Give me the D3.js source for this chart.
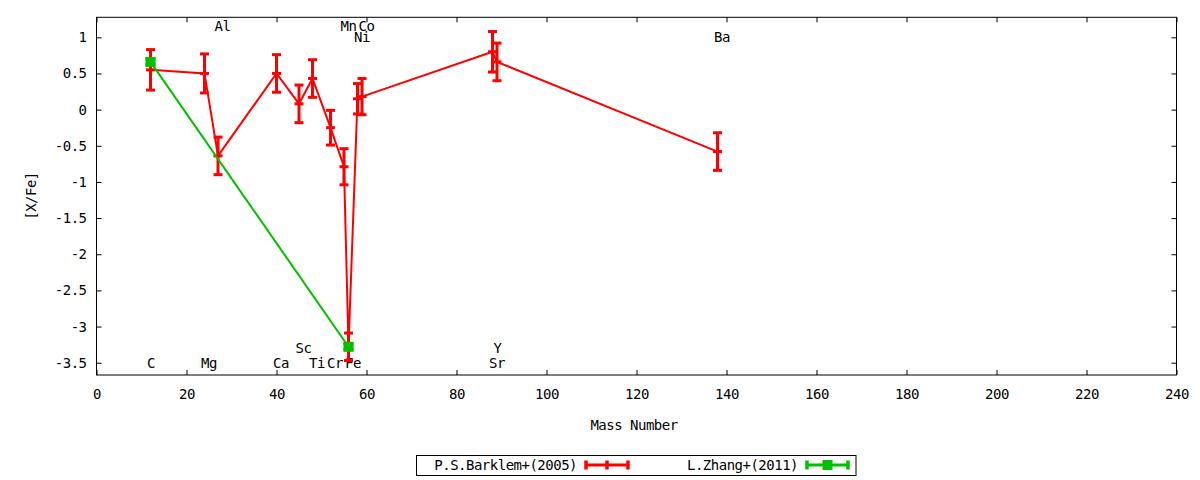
<!DOCTYPE html>
<html>
<head>
<meta charset="utf-8">
<script src="https://cdn.jsdelivr.net/npm/d3@7.9.0/dist/d3.min.js"></script>
<style>
  body { margin: 0; background: #fff; }
  svg text { font-family: "DejaVu Sans Mono", monospace; font-size: 14px; letter-spacing: -0.5px; fill: #000; }
</style>
</head>
<body>
<svg id="chart" width="1200" height="480"></svg>
<script>
// P.S.Barklem+(2005)
const barklemMass = [12, 24, 27, 40, 45, 48, 52, 55, 56, 58, 59, 88, 89, 138];
const barklemVal  = [0.55, 0.50, -0.64, 0.50, 0.08, 0.43, -0.25, -0.79, -3.28, 0.15, 0.18, 0.80, 0.66, -0.58];
const barklemErr  = [0.28, 0.27, 0.26, 0.26, 0.26, 0.26, 0.24, 0.25, 0.19, 0.21, 0.25, 0.28, 0.26, 0.26];

// L.Zhang+(2011)
const zhangMass = [12, 56];
const zhangVal  = [0.66, -3.28];
const zhangErr  = [0.04, 0.04];

// element labels (mass number, [X/Fe] row)
const labelText = ['C', 'Mg', 'Al', 'Ca', 'Sc', 'Ti', 'Cr', 'Mn', 'Fe', 'Co', 'Ni', 'Sr', 'Y', 'Ba'];
const labelMass = [12, 24, 27, 40, 45, 48, 52, 55, 56, 59, 58, 88, 89, 138];
const labelRow  = [-3.5, -3.5, 1.15, -3.5, -3.3, -3.5, -3.5, 1.15, -3.5, 1.15, 1.0, -3.5, -3.3, 1.0];

const xTicks = d3.range(0, 241, 20);
const yTicks = [1, 0.5, 0, -0.5, -1, -1.5, -2, -2.5, -3, -3.5];

const seriesNames = ['P.S.Barklem+(2005)', 'L.Zhang+(2011)'];
const colors = ['#ff0000', '#00c000'];

const pLeft = 96.5, pRight = 1176.5, pTop = 17.3, pBottom = 375;
const x = d3.scaleLinear().domain([0, 240]).range([pLeft, pRight]);
const y = d3.scaleLinear().domain([-3.670, 1.2766]).range([pBottom, pTop]);

const svg = d3.select('#chart');

// axes (gnuplot style: inward ticks, mirrored)
svg.append('g').attr('transform', `translate(0,${pBottom})`)
  .call(d3.axisBottom(x).tickValues(xTicks).tickSizeInner(-5).tickSizeOuter(0).tickPadding(14).tickFormat(d3.format('d')))
  .call(g => g.select('.domain').remove());
svg.append('g').attr('transform', `translate(0,${pTop})`)
  .call(d3.axisTop(x).tickValues(xTicks).tickSizeInner(-5).tickSizeOuter(0).tickFormat(''))
  .call(g => g.select('.domain').remove());
svg.append('g').attr('transform', `translate(${pLeft},0)`)
  .call(d3.axisLeft(y).tickValues(yTicks).tickSizeInner(-5).tickSizeOuter(0).tickPadding(10).tickFormat(d => String(d)))
  .call(g => g.select('.domain').remove());
svg.append('g').attr('transform', `translate(${pRight},0)`)
  .call(d3.axisRight(y).tickValues(yTicks).tickSizeInner(-5).tickSizeOuter(0).tickFormat(''))
  .call(g => g.select('.domain').remove());
svg.selectAll('.tick text')
  .style('font-family', '"DejaVu Sans Mono", monospace').style('font-size', '14px').style('letter-spacing', '-0.5px')
  .attr('fill', '#000');

svg.append('rect')
  .attr('x', pLeft).attr('y', pTop)
  .attr('width', pRight - pLeft).attr('height', pBottom - pTop)
  .attr('fill', 'none').attr('stroke', '#000').attr('stroke-width', 1);

// axis titles
svg.append('text').attr('x', 634).attr('y', 430).attr('text-anchor', 'middle').text('Mass Number');
svg.append('text').attr('transform', 'translate(36,196) rotate(-90)').attr('text-anchor', 'middle').text('[X/Fe]');

// element labels
labelText.forEach((t, i) => {
  svg.append('text')
    .attr('x', x(labelMass[i]) - 3.5)
    .attr('y', y(labelRow[i]))
    .attr('dy', '0.36em')
    .text(t);
});

const line = d3.line();
const plot = svg.append('g');

function drawSeries(mass, val, err, color, square) {
  plot.append('path')
    .attr('d', line(mass.map((m, i) => [x(m), y(val[i])])))
    .attr('fill', 'none').attr('stroke', color).attr('stroke-width', 2);
  mass.forEach((m, i) => {
    const px = x(m), y1 = y(val[i] + err[i]), y2 = y(val[i] - err[i]), yc = y(val[i]);
    const g = plot.append('g').attr('stroke', color).attr('stroke-width', 3);
    g.append('line').attr('x1', px).attr('x2', px).attr('y1', y1).attr('y2', y2);
    const cw = square ? 5 : 4.5;
    g.append('line').attr('x1', px - cw).attr('x2', px + cw).attr('y1', y1).attr('y2', y1);
    g.append('line').attr('x1', px - cw).attr('x2', px + cw).attr('y1', y2).attr('y2', y2);
    if (square) {
      plot.append('rect').attr('x', px - 5).attr('y', yc - 5).attr('width', 10).attr('height', 10).attr('fill', color);
    } else {
      g.append('line').attr('x1', px - 4.5).attr('x2', px + 4.5).attr('y1', yc).attr('y2', yc);
    }
  });
}

drawSeries(barklemMass, barklemVal, barklemErr, colors[0], false);
drawSeries(zhangMass, zhangVal, zhangErr, colors[1], true);

// legend
const leg = svg.append('g');
leg.append('rect').attr('x', 416.5).attr('y', 455.5).attr('width', 439.5).attr('height', 20)
  .attr('fill', '#fff').attr('stroke', '#000').attr('stroke-width', 1);
const legItems = [
  { textX: 577, x1: 586, x2: 628 },
  { textX: 798, x1: 807, x2: 848 }
];
legItems.forEach((it, i) => {
  const cy = 465, c = colors[i];
  leg.append('text').attr('x', it.textX).attr('y', cy).attr('dy', '0.36em').attr('text-anchor', 'end').text(seriesNames[i]);
  leg.append('line').attr('x1', it.x1).attr('x2', it.x2).attr('y1', cy).attr('y2', cy).attr('stroke', c).attr('stroke-width', 3);
  [it.x1, it.x2].forEach(xx => {
    leg.append('line').attr('x1', xx).attr('x2', xx).attr('y1', cy - 4.5).attr('y2', cy + 4.5).attr('stroke', c).attr('stroke-width', 3.5);
  });
  const mid = (it.x1 + it.x2) / 2;
  if (i === 0) {
    leg.append('line').attr('x1', mid).attr('x2', mid).attr('y1', cy - 4.5).attr('y2', cy + 4.5).attr('stroke', c).attr('stroke-width', 3.5);
  } else {
    leg.append('rect').attr('x', mid - 5).attr('y', cy - 5).attr('width', 10).attr('height', 10).attr('fill', c);
  }
});
</script>
</body>
</html>
